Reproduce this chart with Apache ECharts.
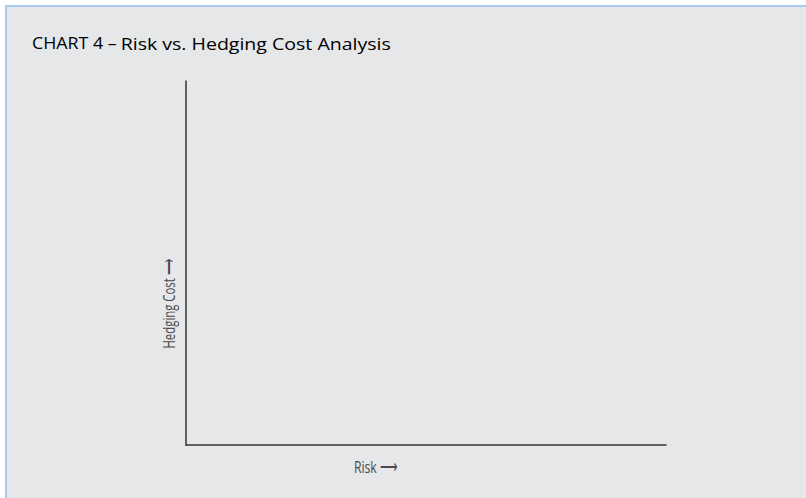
<!DOCTYPE html>
<html>
<head>
<meta charset="utf-8">
<script src="https://cdn.jsdelivr.net/npm/echarts@6/dist/echarts.min.js"></script>
<style>
  html, body { margin: 0; padding: 0; background: #ffffff; }
  #bg { position: absolute; left: 5px; top: 5px; width: 801px; height: 493px;
        background: #e6e7e9; border-top: 2px solid #a7c9ee; border-left: 2px solid #a7c9ee; box-sizing: border-box; }
  #chart { position: absolute; left: 0; top: 0; width: 806px; height: 498px; }
</style>
</head>
<body>
<div id="bg"></div>
<div id="chart"></div>
<script>
// Chart content (the reference shows empty axes only)
const chartLabel = "CHART 4 –";
const chartTitle = "Risk vs. Hedging Cost Analysis";
const xAxisName = "Risk ⟶";
const yAxisName = "Hedging Cost ⟶";
const riskValues = [];
const hedgingCostValues = [];

const chart = echarts.init(document.getElementById('chart'), null, { renderer: 'svg' });
const labelFont = '"Open Sans", "Noto Sans", sans-serif';
const option = {
  backgroundColor: 'transparent',
  animation: false,
  grid: { left: 186, top: 81, right: 140, bottom: 53, containLabel: false },
  xAxis: {
    type: 'value', min: 0, max: 10,
    axisLine: { show: true, lineStyle: { color: '#333333', width: 1.5 } },
    axisTick: { show: false }, axisLabel: { show: false }, splitLine: { show: false }
  },
  yAxis: {
    type: 'value', min: 0, max: 10,
    axisLine: { show: true, lineStyle: { color: '#333333', width: 1.5 } },
    axisTick: { show: false }, axisLabel: { show: false }, splitLine: { show: false }
  },
  graphic: [
    { type: 'text', x: 32, y: 43, scaleX: 1.15,
      style: {
        text: '{a|' + chartLabel + '} {b|' + chartTitle + '}',
        textVerticalAlign: 'middle',
        rich: {
          a: { fontFamily: labelFont, fontSize: 15.5, color: '#3a3a3a' },
          b: { fontFamily: labelFont, fontSize: 17, color: '#2a2a2a' }
        }
      } },
    { type: 'text', x: 376, y: 466, scaleX: 0.72,
      style: { text: xAxisName, font: '17px ' + labelFont, fill: '#4a4a4a', textAlign: 'center', textVerticalAlign: 'middle' } },
    { type: 'text', x: 169, y: 304, rotation: Math.PI / 2, scaleX: 0.67,
      style: { text: yAxisName, font: '17px ' + labelFont, fill: '#4a4a4a', textAlign: 'center', textVerticalAlign: 'middle' } }
  ],
  series: [{
    type: 'scatter',
    data: riskValues.map((r, i) => [r, hedgingCostValues[i]])
  }]
};
chart.setOption(option);
</script>
</body>
</html>
